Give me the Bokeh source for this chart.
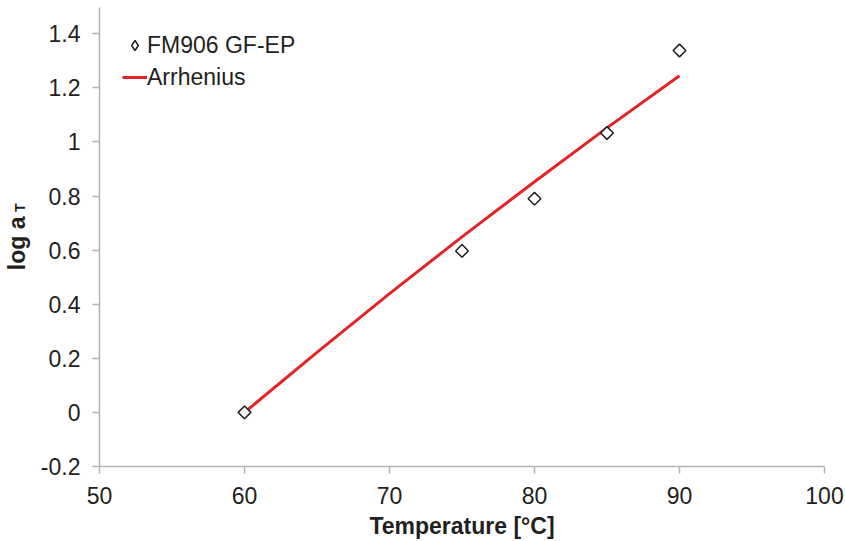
import math
from bokeh.plotting import figure
from bokeh.models import (Range1d, FixedTicker, CustomJSTickFormatter, Legend, LegendItem, LinearAxis)
from bokeh.embed import file_html
from bokeh.resources import INLINE

# Data
temp_meas = [60, 75, 80, 85, 90]
logaT_meas = [0.0, 0.597, 0.79, 1.033, 1.338]
temp_fit = [60, 65, 70, 75, 80, 85, 90]
logaT_fit = [0.0, 0.222, 0.439, 0.649, 0.853, 1.052, 1.245]
x_ticks = [50, 60, 70, 80, 90, 100]
y_ticks = [-0.2, 0.0, 0.2, 0.4, 0.6, 0.8, 1.0, 1.2, 1.4]

FONT = "Liberation Sans"
TXT = "#231f20"
AX = "#b3b3b3"
NBSP = "\u00a0"

p = figure(width=845, height=541, output_backend="svg", toolbar_location=None,
           x_range=Range1d(50, 100), y_range=Range1d(-0.2, 1.497),
           min_border_left=97, min_border_right=21, min_border_top=7, min_border_bottom=75)
p.outline_line_color = None
p.xgrid.visible = False
p.ygrid.visible = False
p.background_fill_color = "white"
p.border_fill_color = "white"

for ax in (p.xaxis[0], p.yaxis[0]):
    ax.axis_line_color = AX
    ax.axis_line_width = 1.5
    ax.major_tick_line_color = AX
    ax.major_tick_line_width = 1.5
    ax.major_tick_out = 7
    ax.major_tick_in = 0
    ax.minor_tick_line_color = None
    ax.major_label_text_font = FONT
    ax.major_label_text_font_size = "23px"
    ax.major_label_text_color = TXT
    ax.axis_label_text_font = FONT
    ax.axis_label_text_font_size = "23px"
    ax.axis_label_text_font_style = "bold"
    ax.axis_label_text_color = TXT

p.xaxis.ticker = FixedTicker(ticks=x_ticks)
p.yaxis.ticker = FixedTicker(ticks=y_ticks)
p.yaxis.formatter = CustomJSTickFormatter(code="return String(Math.round(tick*10)/10);")
p.xaxis.major_label_standoff = 13
p.yaxis.major_label_standoff = 12

p.xaxis.axis_label = "Temperature [°C]"
p.xaxis.axis_label_standoff = 6


def label_axis(text, size, standoff):
    a = LinearAxis(ticker=FixedTicker(ticks=[]), axis_line_color=None,
                   major_tick_line_color=None, minor_tick_line_color=None,
                   major_label_text_font_size="0px",
                   axis_label=text, axis_label_standoff=standoff,
                   axis_label_text_font=FONT, axis_label_text_font_size=size,
                   axis_label_text_font_style="bold", axis_label_text_color=TXT)
    p.add_layout(a, "left")
    return a


# y-axis title "log a" with subscript "T"
label_axis("log a" + NBSP * 2, "23px", 8)
label_axis(NBSP * 15 + "T", "14px", -27)

r_line = p.line(temp_fit, logaT_fit, line_color="#e52228", line_width=3)
r_pts = p.scatter(temp_meas, logaT_meas, marker="square", angle=math.pi/4, size=9,
                  fill_color="white", line_color="#231f20", line_width=1.5)
r_key = p.scatter([math.nan], [math.nan], marker="diamond", fill_color="white",
                  line_color="#231f20", line_width=1.5)

legend = Legend(items=[LegendItem(label="FM906 GF-EP", renderers=[r_key]),
                       LegendItem(label="Arrhenius", renderers=[r_line])],
                location=(23, 375))
legend.border_line_color = None
legend.background_fill_alpha = 0
legend.padding = 0
legend.margin = 0
legend.spacing = 4
legend.glyph_width = 25
legend.glyph_height = 28
legend.label_height = 28
legend.label_standoff = 0
legend.label_text_font = FONT
legend.label_text_font_size = "23px"
legend.label_text_color = TXT
p.add_layout(legend)

open("out.html", "w").write(file_html(p, INLINE))
